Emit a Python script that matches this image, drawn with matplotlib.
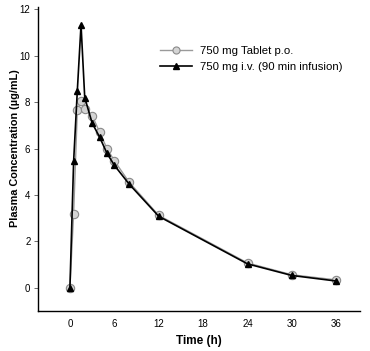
import matplotlib
matplotlib.use("Agg")
import matplotlib.pyplot as plt

plt.rcParams['font.family'] = ['Liberation Sans', 'DejaVu Sans']

time_po = [0, 0.5, 1, 1.5, 2, 3, 4, 5, 6, 8, 12, 24, 30, 36]
conc_po = [0, 3.2, 7.65, 8.05, 7.7, 7.42, 6.72, 6.0, 5.48, 4.55, 3.12, 1.07, 0.56, 0.34]
time_iv = [0, 0.5, 1, 1.5, 2, 3, 4, 5, 6, 8, 12, 24, 30, 36]
conc_iv = [0, 5.45, 8.5, 11.33, 8.2, 7.1, 6.5, 5.8, 5.28, 4.47, 3.08, 1.03, 0.53, 0.29]
xticks = [0, 6, 12, 18, 24, 30, 36]
yticks = [0, 2, 4, 6, 8, 10, 12]

fig = plt.figure(figsize=(3.70, 3.51), dpi=100)
ax = fig.add_axes([0.103, 0.114, 0.870, 0.866])

ax.plot(time_po, conc_po, color='#9a9a9a', lw=1.0, marker='o', ms=6,
        mfc='#d4d4d4', mec='#8a8a8a', mew=0.8, label='750 mg Tablet p.o.', zorder=2)
ax.plot(time_iv, conc_iv, color='black', lw=1.2, marker='^', ms=5,
        mfc='black', mec='black', label='750 mg i.v. (90 min infusion)', zorder=3)

ax.set_xlim(-4.3, 39.2)
ax.set_ylim(-1, 12.1)
ax.set_xticks(xticks)
ax.set_yticks(yticks)
ax.tick_params(axis='x', length=0, labelsize=7, pad=6)
ax.tick_params(axis='y', length=3, width=0.6, labelsize=7, pad=2.5, colors='#555555', labelcolor='black')
for s in ['top', 'right']:
    ax.spines[s].set_visible(False)
for s in ['left', 'bottom']:
    ax.spines[s].set_linewidth(1.0)

ax.set_xlabel('Time (h)', fontsize=8.5, fontweight='bold', labelpad=4)
fig.text(0.040, 0.578, 'Plasma Concentration (µg/mL)', rotation=90, fontsize=7.8,
         fontweight='bold', ha='center', va='center')

leg = ax.legend(loc='upper left', bbox_to_anchor=(0.379, 0.872), frameon=False,
                fontsize=8.2, handlelength=2.8, handletextpad=0.7, markerscale=0.85,
                labelspacing=0.55, borderaxespad=0, borderpad=0)

fig.savefig('out.png', dpi=100, facecolor='white')
